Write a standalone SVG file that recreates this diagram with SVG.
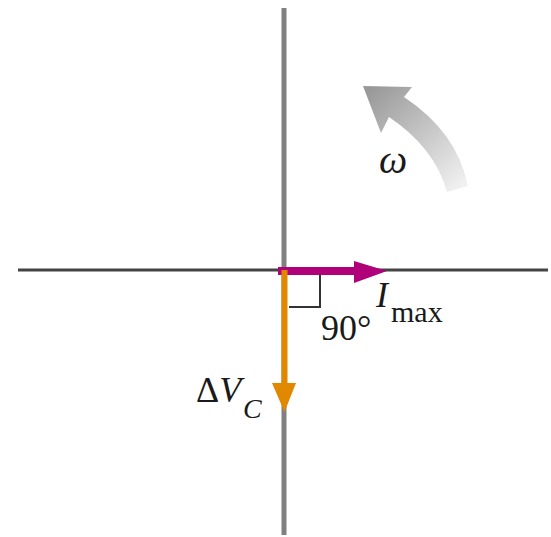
<svg xmlns="http://www.w3.org/2000/svg" width="551" height="537" viewBox="0 0 551 537">
<style>
.t{font-family:"Liberation Serif","Times New Roman",serif;fill:#1a1a1a}
.i{font-style:italic}
</style>
<defs>
<linearGradient id="g" gradientUnits="userSpaceOnUse" x1="370" y1="90" x2="460" y2="190">
<stop offset="0" stop-color="#999"/>
<stop offset="1" stop-color="#f2f2f2"/>
</linearGradient>
</defs>
<g id="axes">
<line x1="284" y1="8" x2="284" y2="535" stroke="#808080" stroke-width="5"/>
<line x1="18" y1="270" x2="548" y2="270" stroke="#444" stroke-width="3"/>
</g>
<g id="rotation">
<path d="M363,86 L412,87 L404,97 Q457,132 468,186 L447,192 Q435,148 389,117 L381,133 Z" fill="url(#g)"/>
<text class="t i" x="379" y="173" font-size="40">ω</text>
</g>
<g id="connectors">
<g id="current">
<line x1="278" y1="271" x2="358" y2="271" stroke="#b0007a" stroke-width="8"/>
<polygon points="354,261 387,271 354,283" fill="#b0007a"/>
</g>
<g id="voltage">
<line x1="284.5" y1="270" x2="284.5" y2="388" stroke="#e08800" stroke-width="6"/>
<polygon points="272,383 296,383 284.5,412" fill="#e08800"/>
</g>
</g>
<g id="rightangle">
<polyline points="320,275 320,307 289,307" fill="none" stroke="#333" stroke-width="2"/>
<text class="t" x="321" y="340" font-size="36">90°</text>
</g>
<g id="labels">
<text class="t i" x="376" y="307" font-size="36">I</text>
<text class="t" x="391" y="322" font-size="30">max</text>
<text class="t" x="196" y="402" font-size="36">Δ<tspan class="i">V</tspan></text>
<text class="t i" x="243" y="418" font-size="28">C</text>
</g>
</svg>
